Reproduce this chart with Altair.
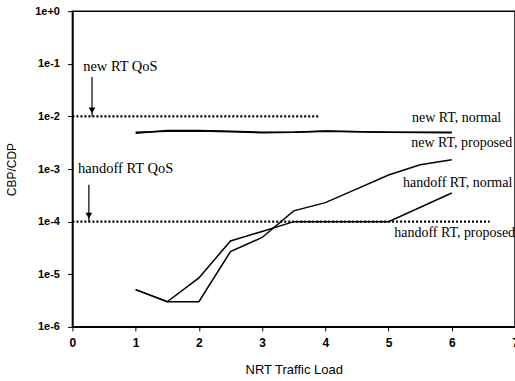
import altair as alt
import pandas as pd

# ---- data ----
load_new = [1, 1.5, 2, 2.5, 3, 3.5, 4, 5, 6]
new_normal = [4.8e-3, 5.4e-3, 5.4e-3, 5.2e-3, 5.0e-3, 5.0e-3, 5.2e-3, 5.0e-3, 4.9e-3]
new_proposed = [5.0e-3, 5.2e-3, 5.3e-3, 5.1e-3, 4.9e-3, 5.0e-3, 5.3e-3, 5.0e-3, 5.0e-3]

load_ho_normal = [1, 1.5, 2, 2.5, 3, 3.5, 4, 4.5, 5, 5.5, 6]
ho_normal = [5.1e-6, 3.0e-6, 3.0e-6, 2.7e-5, 5.0e-5, 1.6e-4, 2.3e-4, 4.2e-4, 7.7e-4, 1.2e-3, 1.5e-3]
load_ho_proposed = [1, 1.5, 2, 2.5, 3, 3.5, 4, 4.5, 5, 6]
ho_proposed = [5.1e-6, 3.0e-6, 8.5e-6, 4.3e-5, 6.5e-5, 1.0e-4, 1.0e-4, 1.0e-4, 1.0e-4, 3.5e-4]

qos_names = ["new RT QoS", "handoff RT QoS"]
qos_levels = [1e-2, 1e-4]
qos_x_end = [3.9, 6.6]
qos_text_x = [0.17, 0.09]
qos_text_y = [0.0865, 1e-3]
qos_arrow_x = [0.31, 0.26]
qos_arrow_top = [0.056, 5e-4]

label_texts = ["new RT, normal", "new RT, proposed", "handoff RT, normal", "handoff RT, proposed"]
label_x = [5.37, 5.36, 5.23, 5.09]
label_y = [9.3e-3, 3.13e-3, 5.45e-4, 6.1e-5]

y_ticks = [1e-6, 1e-5, 1e-4, 1e-3, 1e-2, 1e-1, 1]
x_ticks = [0, 1, 2, 3, 4, 5, 6, 7]

# ---- tables ----
rows = []
for name, xs, ys in [("new RT, normal", load_new, new_normal),
                     ("new RT, proposed", load_new, new_proposed),
                     ("handoff RT, normal", load_ho_normal, ho_normal),
                     ("handoff RT, proposed", load_ho_proposed, ho_proposed)]:
    for xv, yv in zip(xs, ys):
        rows.append({"series": name, "load": xv, "p": yv})
curves = pd.DataFrame(rows)

qos_rows = []
for n, lv, xe in zip(qos_names, qos_levels, qos_x_end):
    qos_rows.append({"name": n, "load": 0, "p": lv})
    qos_rows.append({"name": n, "load": xe, "p": lv})
qos = pd.DataFrame(qos_rows)

qos_text = pd.DataFrame({"text": qos_names, "load": qos_text_x, "p": qos_text_y})
arrows = pd.DataFrame({"load": qos_arrow_x, "top": qos_arrow_top, "p": qos_levels})
labels = pd.DataFrame({"text": label_texts, "load": label_x, "p": label_y})

xscale = alt.Scale(domain=[0, 7], nice=False, zero=False)
yscale = alt.Scale(type="log", domain=[1e-6, 1], nice=False)

x_axis = alt.Axis(values=x_ticks, format="d", title="NRT Traffic Load", grid=False,
                  labelFont="Liberation Sans", labelFontWeight="bold", labelFontSize=12,
                  labelColor="black", tickColor="black", tickSize=4, labelPadding=7,
                  domainColor="black", domainWidth=1.5, titleFont="Liberation Sans",
                  titleFontWeight="normal", titleFontSize=13, titleColor="black",
                  titlePadding=15, labelFlush=False)
y_axis = alt.Axis(values=y_ticks, title="CBP/CDP", grid=False,
                  labelExpr="datum.value >= 1 ? '1e+0' : '1e' + round(log(datum.value)/LN10)",
                  labelFont="Liberation Sans", labelFontWeight="bold", labelFontSize=11,
                  labelColor="black", tickColor="black", tickSize=5, labelPadding=8,
                  domainColor="black", domainWidth=1.5, titleFont="Liberation Sans",
                  titleFontWeight="normal", titleFontSize=12, titleColor="black",
                  titlePadding=16, labelFlush=False)

base_x = alt.X("load:Q", scale=xscale, axis=x_axis)
base_y = alt.Y("p:Q", scale=yscale, axis=y_axis)

lines = alt.Chart(curves).mark_line(color="black", strokeWidth=1.5).encode(
    x=base_x, y=base_y, detail="series:N")

qos_lines = alt.Chart(qos).mark_line(color="black", strokeWidth=2.2, strokeDash=[2, 2]).encode(
    x=alt.X("load:Q", scale=xscale), y=alt.Y("p:Q", scale=yscale), detail="name:N")

shafts = alt.Chart(arrows).mark_rule(color="black", strokeWidth=1.2).encode(
    x=alt.X("load:Q", scale=xscale), y=alt.Y("top:Q", scale=yscale), y2=alt.Y2("p:Q"))

heads = alt.Chart(arrows).mark_point(shape="triangle-down", filled=True, color="black",
                                     size=45, opacity=1, yOffset=-6).encode(
    x=alt.X("load:Q", scale=xscale), y=alt.Y("p:Q", scale=yscale))

qos_txt = alt.Chart(qos_text).mark_text(align="left", baseline="middle", font="Liberation Serif",
                                        fontSize=14.5, color="black").encode(
    x=alt.X("load:Q", scale=xscale), y=alt.Y("p:Q", scale=yscale), text="text:N")

lab_txt = alt.Chart(labels).mark_text(align="left", baseline="middle", font="Liberation Serif",
                                      fontSize=14, color="black").encode(
    x=alt.X("load:Q", scale=xscale), y=alt.Y("p:Q", scale=yscale), text="text:N")

chart = alt.layer(lines, qos_lines, shafts, heads, qos_txt, lab_txt).properties(
    width=443, height=316,
    autosize=alt.AutoSizeParams(type="none"),
    padding={"left": 72.5, "top": 11, "right": 0, "bottom": 54},
    background="white",
).configure_view(stroke="black", strokeWidth=1.5)

chart.save("out.html", embed_options={"renderer": "svg", "actions": False})
